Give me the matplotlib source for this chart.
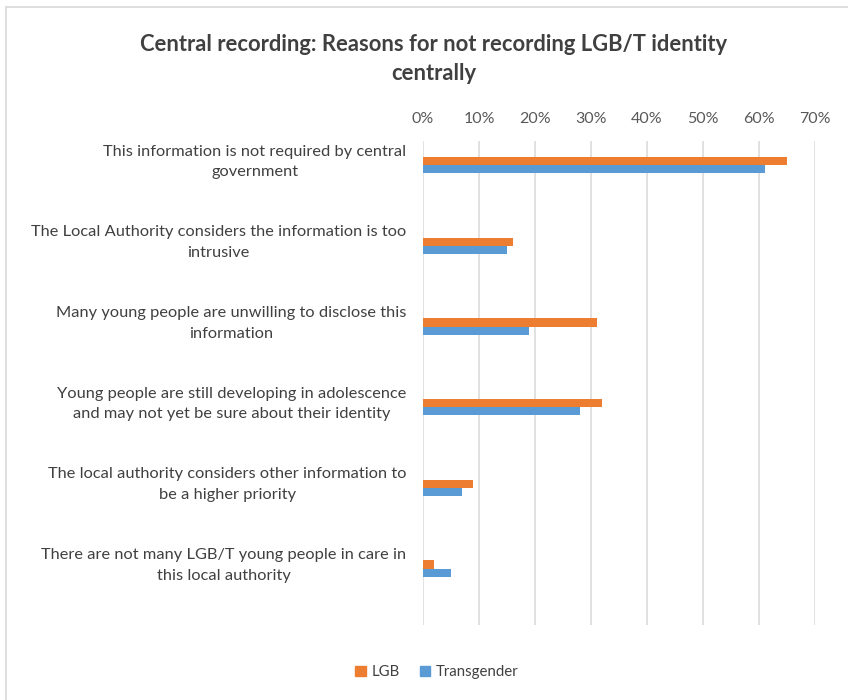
import matplotlib
matplotlib.use("Agg")
import matplotlib.pyplot as plt
from matplotlib.patches import Rectangle, Patch
from matplotlib.ticker import PercentFormatter
import numpy as np

categories = [
    "This information is not required by central\ngovernment",
    "The Local Authority considers the information is too\nintrusive",
    "Many young people are unwilling to disclose this\ninformation",
    "Young people are still developing in adolescence\nand may not yet be sure about their identity",
    "The local authority considers other information to\nbe a higher priority",
    "There are not many LGB/T young people in care in\nthis local authority",
]
lgb = [65, 16, 31, 32, 9, 2]
transgender = [61, 15, 19, 28, 7, 5]
x_ticks = [0, 10, 20, 30, 40, 50, 60, 70]

W, H = 848, 700
fig = plt.figure(figsize=(W / 100, H / 100), dpi=100)
plt.rcParams['font.family'] = ['Lato', 'DejaVu Sans']

# chart frame
fig.patches.append(Rectangle((6 / W, -0.1), 1.2, 1 - 7 / H + 0.1,
                             transform=fig.transFigure, fill=False,
                             edgecolor="#D9D9D9", linewidth=1.2))

left, right, top, bottom = 423, 815, 141, 625
ax = fig.add_axes([left / W, 1 - bottom / H, (right - left) / W, (bottom - top) / H])

y = np.arange(len(categories))
bh = 0.1
ax.barh(y - bh / 2, lgb, height=bh, color="#ED7D31", label="LGB")
ax.barh(y + bh / 2, transgender, height=bh, color="#5B9BD5", label="Transgender")

ax.set_xlim(0, 70)
ax.set_ylim(5.7, -0.3)
ax.set_xticks(x_ticks)
ax.xaxis.set_major_formatter(PercentFormatter(decimals=0))
ax.xaxis.tick_top()
ax.tick_params(axis='x', length=0, pad=10.5, labelsize=11.5, labelcolor="#595959")
ax.set_yticks(y - 0.1)
ax.set_yticklabels(categories, fontsize=11.8, color="#404040", linespacing=1.6,
                   multialignment="center")
ax.tick_params(axis='y', length=0, pad=12)
ax.grid(axis='x', color="#D9D9D9", linewidth=1.1)
ax.set_axisbelow(True)
for s in ax.spines.values():
    s.set_visible(False)

fig.text(434 / W, 1 - 59 / H,
         "Central recording: Reasons for not recording LGB/T identity\ncentrally",
         ha="center", va="center", fontsize=15.8, fontweight="bold",
         color="#404040", linespacing=1.45)

handles = [Patch(color="#ED7D31", label="LGB"), Patch(color="#5B9BD5", label="Transgender")]
fig.legend(handles=handles, loc="center", bbox_to_anchor=(437 / W, 1 - 672 / H),
           ncol=2, frameon=False, fontsize=10.8, handlelength=0.7, handleheight=0.7,
           handletextpad=0.4, columnspacing=1.3, labelcolor="#404040")

fig.savefig("out.png", dpi=100, facecolor="white")
